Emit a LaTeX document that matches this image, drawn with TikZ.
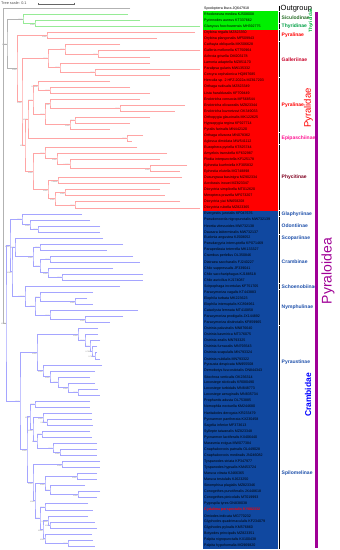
\documentclass[tikz,border=0pt]{standalone}
\usepackage{fontspec}
\setmainfont{Liberation Sans}
\usetikzlibrary{arrows.meta,calc}
\definecolor{thybox}{RGB}{0,240,0}
\definecolor{pyrbox}{RGB}{255,0,0}
\definecolor{crabox}{RGB}{16,72,160}
\definecolor{thyln}{RGB}{150,235,150}
\definecolor{pyrln}{RGB}{255,165,165}
\definecolor{craln}{RGB}{165,165,255}
\definecolor{sicgreen}{RGB}{40,110,40}
\definecolor{thygreen}{RGB}{0,160,70}
\definecolor{galred}{RGB}{200,0,40}
\definecolor{epipink}{RGB}{255,20,147}
\definecolor{phyred}{RGB}{128,0,32}
\definecolor{crablue}{RGB}{30,80,170}
\definecolor{supmag}{RGB}{160,0,150}
\newcommand\cl[5]{%
  \path let \p1=(#3), \p2=(#4) in coordinate (#1) at (#2pt,{0.5*\y1+0.5*\y2});
  \draw[br] (#3) -| (#1) |- (#4);
  \node[bs] (b#1) at (#1) {#5};}
\begin{document}
\begin{tikzpicture}[x=1pt,y=-1pt]
  \tikzstyle{rt}=[draw=gray!60,line width=0.4pt]
  \tikzstyle{thy}=[draw=thyln,line width=0.4pt]
  \tikzstyle{pyr}=[draw=pyrln,line width=0.4pt]
  \tikzstyle{cra}=[draw=craln,line width=0.4pt]
  \tikzstyle{br}=[rt]
  \tikzstyle{bs}=[anchor=north east,inner sep=0.2pt,font=\fontsize{1.8}{2}\selectfont,text=black!55]
  \tikzstyle{tip}=[anchor=west,inner sep=0pt,font=\fontsize{3.6}{4}\selectfont]
  \tikzstyle{sub}=[anchor=west,inner sep=0pt,font=\fontsize{5}{6}\selectfont\bfseries]
  \tikzstyle{bar}=[line width=1.6pt,black]
  \useasboundingbox (0,0) rectangle (340,550);
  \fill[white] (0,0) rectangle (340,550);
  \fill[thybox] (203,11.42) rectangle (278,29.54);
  \fill[pyrbox] (203,29.54) rectangle (278,210.74);
  \fill[crabox] (203,210.74) rectangle (278,549.02);
  \foreach \i/\xe/\nm in {1/130/Spodoptera litura JQ647918, 2/128/Rhodoneura mediea KJ508008,
    3/140/Pyrinnodes aureus KT337662, 4/200/Glanycus foochowensis MH392775,
    5/195/Orybina regalis MZ823350, 6/157/Orybina plangonalis MF509943,
    7/120/Cathayia obliquella MK506628, 8/200/Galleria mellonella KT750964,
    9/150/Achroia grisella OM203178, 10/150/Lamoria adaptella MZ851170,
    11/200/Paralipsa gularis MW135332, 12/170/Corcyra cephalonica HQ897685,
    13/110/Herculia sp. 2 HFZ-2022a MZ817203, 14/130/Orthaga rudisalis MZ823349,
    15/150/Lista haraldusalis KF709449, 16/140/Endotricha consocia MF568544,
    17/185/Endotricha olivacealis MZ823344, 18/175/Endotricha kuznetzovi OK349033,
    19/150/Orthopygia glaucinalis MK122625, 20/130/Hypsopygia regina KF927714,
    21/110/Pyralis farinalis MN442120, 22/143/Orthaga olivacea MN078362,
    23/132/Aglossa dimidiata MW541112, 24/137/Euzophera pyriella KT825744,
    25/167/Amyelois transitella KF632987, 26/160/Plodia interpunctella KF125178,
    27/187/Ephestia kuehniella KF305832, 28/180/Ephestia elutella MG748898,
    29/182/Dusungwua basinigra MZ902334, 30/170/Acrobasis inouei MZ823347,
    31/160/Dioryctria simplicella MT012620, 32/165/Meroptera pravella MF073207,
    33/180/Dioryctria yiai MN658208, 34/200/Dioryctria rubella MZ823365,
    35/82/Evergestis junctalis KF047676, 36/90/Pseudonoorda nigropunctalis MW732139,
    37/100/Heortia vitessoides MW732138, 38/100/Dausara latiterminalis MW732137,
    39/103/Eudonia angustea KJ508052, 40/123/Pseudargyria interruptella KP071469,
    41/107/Parapediasia teterrella MK133327, 42/133/Crambus perlellus OL350846,
    43/140/Diatraea saccharalis FJ240227, 44/113/Chilo suppressalis JF339041,
    45/143/Chilo sacchariphagus KJ188518, 46/143/Chilo auricilius KJ174087,
    47/120/Scirpophaga incertulas KF751705, 48/93/Paracymoriza vagalis KT443883,
    49/87/Elophila turbata MK223623, 50/93/Elophila interruptalis KC894961,
    51/138/Cataclysta lemnata MT410858, 52/123/Paracymoriza prodigalis JX144892,
    53/110/Paracymoriza distinctalis KF859965, 54/98/Ostrinia palustralis MN876640,
    55/98/Ostrinia kasmirica MT376075, 56/100/Ostrinia zealis MN793325,
    57/97/Ostrinia furnacalis MN793543, 58/97/Ostrinia scapulalis MN793324,
    59/100/Ostrinia nubilalis MN793322, 60/102/Pyrausta despicata MN955508,
    61/95/Demobotys fuscostictalis ON844343, 62/90/Sitochroa verticalis OK236314,
    63/95/Loxostege sticticalis KR080490, 64/98/Loxostege turbidalis MN848773,
    65/100/Loxostege aeruginalis MN835734, 66/90/Prophantis adusta OL753885,
    67/90/Nomophila noctuella KM244680, 68/92/Haritalodes derogata KR233479,
    69/92/Pycnarmon pantherata KX230458, 70/93/Sagelia inferior MF373613,
    71/90/Syllepte taiwanalis MZ823348, 72/92/Pycnarmon lactiferalis KX406440,
    73/97/Marasmia exigua MW077384, 74/97/Cnaphalocrocis patnalis OL449028,
    75/97/Cnaphalocrocis medinalis JN246082, 76/100/Tyspanodes striata KP347977,
    77/100/Tyspanodes hypsalis KM453724, 78/97/Maruca vitrata KJ466365,
    79/97/Maruca testulalis KJ623250, 80/85/Sinomphisa plagialis MZ823346,
    81/100/Conogethes punctiferalis JX448618, 82/97/Conogethes pinicolalis MT019993,
    83/88/Pygospila tyres ON838038, 84/93/{\textcolor{red}{\bfseries Cydalima perspectalis KY882332}},
    85/88/Omiodes indicata MG770232, 86/95/Glyphodes quadrimaculalis KF234079,
    87/97/Glyphodes pyloalis KM576860, 88/92/Botyodes principalis MZ823351,
    89/93/Palpita nigropunctalis KX100438, 90/95/Palpita hypohomalia MG969820}
  {
    \coordinate (t\i) at (\xe,{8.4+6.04*(\i-1)});
    \node[tip] (l\i) at (204,{8.4+6.04*(\i-1)}) {\nm};
  }
  \tikzstyle{br}=[thy]
  \cl{ng1}{35}{t3}{t4}{1/100}
  \cl{nthy}{23}{t2}{ng1}{1/100}
  \tikzstyle{br}=[pyr]
  \cl{nory}{47}{t5}{t6}{1/100}
  \cl{nga}{98}{t8}{t9}{1/100}
  \cl{ngb}{65}{t7}{nga}{1/100}
  \cl{ngc}{95}{t11}{t12}{1/100}
  \cl{ngd}{60}{t10}{ngc}{1/100}
  \cl{ngal}{48}{ngb}{ngd}{1/100}
  \cl{npa}{50}{t14}{t15}{1/100}
  \cl{npb}{38}{t13}{npa}{0.99/98}
  \cl{npc}{120}{t17}{t18}{1/100}
  \cl{npd}{50}{t16}{npc}{1/100}
  \cl{npe}{75}{t19}{t20}{1/100}
  \cl{npf}{70}{npe}{t21}{1/100}
  \cl{npg}{45}{npd}{npf}{1/100}
  \cl{npy}{33}{npb}{npg}{1/100}
  \cl{nep}{127}{t22}{t23}{1/100}
  \cl{npyep}{28}{npy}{nep}{1/100}
  \cl{nf2}{150}{t27}{t28}{1/100}
  \cl{nf1b}{70}{t26}{nf2}{0.99/97}
  \cl{nf1}{57}{t25}{nf1b}{1/100}
  \cl{nf4}{45}{t24}{nf1}{1/100}
  \cl{nf5}{58}{t29}{t30}{0.99/86}
  \cl{nf6}{65}{t31}{t32}{1/100}
  \cl{nf7}{75}{t33}{t34}{1/100}
  \cl{nf8}{55}{nf6}{nf7}{1/100}
  \cl{nf9}{48}{nf5}{nf8}{1/100}
  \cl{nphy}{33}{nf4}{nf9}{1/100}
  \cl{nb}{25}{npyep}{nphy}{1/100}
  \cl{na}{22}{ngal}{nb}{1/100}
  \cl{npyr}{17}{nory}{na}{1/100}
  \tikzstyle{br}=[rt]
  \cl{nthp}{7}{nthy}{npyr}{1/100}
  \tikzstyle{br}=[cra]
  \cl{no1}{38}{t37}{t38}{1/100}
  \cl{nod}{30}{t36}{no1}{1/100}
  \cl{nc1}{22}{t35}{nod}{1/100}
  \cl{ncr1}{40}{t40}{t41}{1/100}
  \cl{ncr2}{50}{t42}{t43}{1/100}
  \cl{ncr3}{62}{t45}{t46}{1/100}
  \cl{ncr4}{48}{t44}{ncr3}{1/100}
  \cl{ncr5}{40}{ncr2}{ncr4}{1/100}
  \cl{ncrb}{33}{ncr1}{ncr5}{1/100}
  \cl{nsc}{15}{t39}{ncrb}{1/100}
  \cl{nn1}{75}{t49}{t50}{1/100}
  \cl{nn2}{40}{t48}{nn1}{1/100}
  \cl{nn3}{85}{t52}{t53}{1/100}
  \cl{nn4}{50}{t51}{nn3}{1/100}
  \cl{nny}{35}{nn2}{nn4}{1/100}
  \cl{nsn}{25}{t47}{nny}{0.9/100}
  \cl{nc2}{12}{nsc}{nsn}{1/100}
  \cl{nc3}{10}{nc1}{nc2}{1/100}
  \cl{nos1}{95}{t58}{t59}{0.76/62}
  \cl{nos2}{92}{t57}{nos1}{0.75/68}
  \cl{nos3}{90}{t56}{nos2}{1/100}
  \cl{nos4}{85}{t55}{nos3}{1/100}
  \cl{nos}{78}{t54}{nos4}{1/100}
  \cl{nl1}{78}{t64}{t65}{1/100}
  \cl{nl2}{68}{t63}{nl1}{1/100}
  \cl{nl3}{58}{t62}{nl2}{1/100}
  \cl{nl4}{50}{t61}{nl3}{1/100}
  \cl{nl5}{43}{t60}{nl4}{1/100}
  \cl{npu}{37}{nos}{nl5}{1/100}
  \cl{ns1}{35}{t66}{t67}{1/100}
  \cl{ns2}{47}{t69}{t70}{0.99/98}
  \cl{ns3}{43}{t68}{ns2}{1/100}
  \cl{ns4}{42}{t71}{t72}{1/100}
  \cl{ns5}{60}{t74}{t75}{1/100}
  \cl{ns6}{53}{t73}{ns5}{1/100}
  \cl{ns7}{37}{ns4}{ns6}{1/100}
  \cl{ns8}{33}{ns3}{ns7}{1/100}
  \cl{ns9}{30}{ns1}{ns8}{1/100}
  \cl{ns10}{62}{t76}{t77}{1/100}
  \cl{ns11}{77}{t78}{t79}{1/100}
  \cl{ns12}{78}{t81}{t82}{1/100}
  \cl{ns13}{50}{t80}{ns12}{1/100}
  \cl{ns14}{45}{ns11}{ns13}{1/100}
  \cl{ns15}{45}{t83}{t84}{1/100}
  \cl{ns16}{50}{t86}{t87}{1/100}
  \cl{ns17}{48}{t85}{ns16}{0.99/84}
  \cl{ns18}{68}{t89}{t90}{1/100}
  \cl{ns19}{45}{t88}{ns18}{1/100}
  \cl{ns20}{43}{ns17}{ns19}{1/100}
  \cl{ns21}{40}{ns15}{ns20}{1/100}
  \cl{ns22}{35}{ns14}{ns21}{1/100}
  \cl{ns23}{33}{ns10}{ns22}{1/100}
  \cl{nsp}{27}{ns9}{ns23}{1/100}
  \cl{nc4}{20}{npu}{nsp}{1/100}
  \cl{ncra}{6}{nc3}{nc4}{1/100}
  \coordinate (root) at (3,8.4);
  \draw[rt] (t1) -- (root) |- (ncra);
  \draw[rt] (root |- nthp) -- (nthp);
  \node[anchor=west,inner sep=0pt,font=\fontsize{3.8}{4}\selectfont,text=black!70] (scale) at (1,3.6) {Tree scale: 0.1};
  \coordinate (sb1) at (38,3.8);
  \coordinate (sb2) at (74,3.8);
  \draw[black!60,line width=0.4pt,{Bar[width=2.5pt]}-{Bar[width=2.5pt]}] (sb1) -- (sb2);
  \draw[bar] (279.5,5.8) -- (279.5,11);
  \node[anchor=west,inner sep=0pt,font=\fontsize{7.5}{8}\selectfont] (outg) at (280.5,8.2) {Outgroup};
  \foreach \a/\b/\nm/\c in {2/3/Siculodinae/sicgreen, 4/4/Thyridinae/thygreen, 5/6/Pyralinae/red,
    7/12/Galleriinae/galred, 13/21/Pyralinae/red, 22/23/Epipaschiinae/epipink, 24/34/Phycitinae/phyred,
    35/35/Glaphyriinae/crablue, 36/38/Odontiinae/crablue, 39/39/Scopariinae/crablue,
    40/46/Crambinae/crablue, 47/47/Schoenobiinae/crablue, 48/53/Nymphulinae/crablue,
    54/65/Pyraustinae/crablue, 66/90/Spilomelinae/crablue}
  {
    \draw[bar] (279.5,{8.4+6.04*(\a-1)-2.6}) -- (279.5,{8.4+6.04*(\b-1)+2.6});
    \node[sub,text=\c] (s\a) at (281.5,{8.4+3.02*(\a+\b-2)}) {\nm};
  }
  \draw[supmag,line width=3pt] (316.7,12) -- (316.7,548);
  \node[rotate=90,inner sep=0pt,font=\fontsize{4.7}{5}\selectfont\bfseries,text=thygreen!80!green] (thyfam) at (311,20.5) {Thyrididae};
  \node[rotate=90,inner sep=0pt,font=\fontsize{9.5}{10}\selectfont,text=red] (pyrfam) at (308.5,108) {Pyralidae};
  \node[rotate=90,inner sep=0pt,font=\fontsize{8.5}{9}\selectfont\bfseries,text=blue] (crafam) at (308,395) {Crambidae};
  \node[rotate=90,inner sep=0pt,font=\fontsize{14}{15}\selectfont,text=supmag] (pyrsup) at (328,271) {Pyraloidea};
\end{tikzpicture}
\end{document}
